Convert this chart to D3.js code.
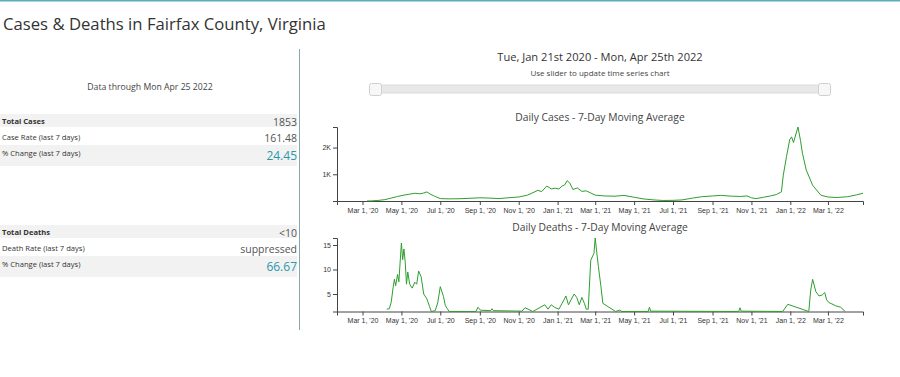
<!DOCTYPE html>
<html>
<head>
<meta charset="utf-8">
<script src="https://cdn.jsdelivr.net/npm/d3@7"></script>
<style>
  body { margin: 0; background: #fff; }
  svg { font-family: "Open Sans", sans-serif; display: block; }
  .axis text { font-family: "Liberation Sans", Arial, sans-serif; font-size: 7px; fill: #333; }
  .axis path, .axis line { stroke: #444; }
</style>
</head>
<body>
<div id="chart-container"></div>
<script>
// Data

const caseDates = [
  "2020-03-08","2020-03-15","2020-03-25","2020-04-05","2020-04-15","2020-04-25","2020-05-05","2020-05-15",
  "2020-05-22","2020-05-30","2020-06-05","2020-06-10","2020-06-15","2020-06-22","2020-07-01","2020-07-15",
  "2020-08-01","2020-08-15","2020-09-01","2020-09-15","2020-10-01","2020-10-15","2020-11-01","2020-11-15",
  "2020-11-25","2020-12-01","2020-12-07","2020-12-15","2020-12-22","2020-12-28","2021-01-03","2021-01-08",
  "2021-01-12","2021-01-16","2021-01-20","2021-01-25","2021-02-01","2021-02-08","2021-02-15","2021-02-22",
  "2021-03-01","2021-03-15","2021-04-01","2021-04-15","2021-05-01","2021-05-15","2021-06-01","2021-06-15",
  "2021-07-01","2021-07-15","2021-08-01","2021-08-15","2021-09-01","2021-09-15","2021-10-01","2021-10-15",
  "2021-10-25","2021-11-01","2021-11-08","2021-11-20","2021-12-01","2021-12-10","2021-12-18","2021-12-21",
  "2021-12-26","2021-12-31","2022-01-03","2022-01-06","2022-01-13","2022-01-17","2022-01-20","2022-01-26",
  "2022-02-05","2022-02-18","2022-03-01","2022-03-15","2022-04-01","2022-04-15","2022-04-25"
];
const caseAvg = [
  0, 5, 20, 50, 110, 170, 220, 260,
  290, 270, 300, 340, 260, 180, 90, 80,
  85, 100, 120, 110, 90, 120, 150, 220,
  330, 400, 350, 560, 450, 480, 450, 560,
  600, 760, 680, 430, 490, 360, 380, 300,
  220, 190, 180, 210, 140, 80, 40, 20,
  25, 40, 110, 160, 190, 210, 180, 170,
  190, 120, 90, 140, 190, 240, 340, 970,
  1660, 2290, 2400, 2190, 2770, 2260, 1790, 1160,
  590, 215, 150, 130, 160, 230, 290
];

const deathDates = [
  "2020-04-08","2020-04-12","2020-04-15","2020-04-18","2020-04-20","2020-04-22","2020-04-25","2020-04-27",
  "2020-05-01","2020-05-03","2020-05-05","2020-05-07","2020-05-09","2020-05-11","2020-05-14","2020-05-18",
  "2020-05-22","2020-05-25","2020-05-28","2020-06-01","2020-06-05","2020-06-10","2020-06-14","2020-06-17",
  "2020-06-23","2020-06-27","2020-07-01","2020-07-06","2020-07-09","2020-07-12","2020-07-15","2020-08-26",
  "2020-08-29","2020-09-02","2020-09-18","2020-09-20","2020-09-22","2020-11-06","2020-11-11","2020-11-23",
  "2020-12-12","2020-12-17","2020-12-22","2020-12-27","2021-01-03","2021-01-08","2021-01-11","2021-01-14",
  "2021-01-18","2021-01-22","2021-01-27","2021-01-31","2021-02-04","2021-02-08","2021-02-12","2021-02-15",
  "2021-02-18","2021-02-22","2021-02-27","2021-03-01","2021-03-03","2021-03-06","2021-03-10","2021-03-13",
  "2021-04-02","2021-04-08","2021-04-12","2021-05-23","2021-05-25","2021-05-27","2021-10-12","2021-10-14",
  "2021-10-16","2021-12-20","2021-12-28","2022-01-30","2022-02-02","2022-02-05","2022-02-10","2022-02-15",
  "2022-02-20","2022-02-24","2022-02-27","2022-03-03","2022-03-07","2022-03-13","2022-03-21","2022-03-28"
];
const deathAvg = [
  1.9, 2.0, 3.3, 6.3, 8.0, 6.7, 9.0, 7.5,
  15.4, 12.0, 14.2, 11.5, 7.0, 9.5, 7.0, 6.2,
  7.4, 7.0, 9.7, 8.5, 5.0, 4.0, 2.5, 1.43,
  1.6, 3.2, 6.5, 4.5, 2.6, 2.0, 1.43, 1.43,
  2.3, 1.7, 1.6, 2.0, 1.6, 1.5, 2.2, 1.43,
  2.8, 1.9, 2.8, 2.3, 1.9, 3.1, 3.8, 4.6,
  2.8, 3.8, 5.0, 4.3, 2.8, 4.3, 3.1, 1.9,
  1.9, 11.9, 13.3, 16.43, 14.0, 10.6, 6.5, 3.1,
  1.43, 1.7, 1.43, 1.43, 2.3, 1.5, 1.43, 2.2,
  1.5, 1.43, 2.9, 1.43, 5.8, 8.0, 5.5, 4.6,
  4.8, 5.3, 3.8, 3.2, 3.0, 2.6, 2.3, 1.43
];

const caseYTicks = [1000, 2000];
const deathYTicks = [5, 10, 15];
const timeRange = ["2020-01-21", "2022-04-25"];

const caseRows = [
  { label: "Total Cases", value: "1853" },
  { label: "Case Rate (last 7 days)", value: "161.48" },
  { label: "% Change (last 7 days)", value: "24.45" }
];
const deathRows = [
  { label: "Total Deaths", value: "<10" },
  { label: "Death Rate (last 7 days)", value: "suppressed" },
  { label: "% Change (last 7 days)", value: "66.67" }
];

const parseDate = d3.timeParse("%Y-%m-%d");
const cases = caseDates.map((d, i) => ({ date: parseDate(d), value: caseAvg[i] }));
const deaths = deathDates.map((d, i) => ({ date: parseDate(d), value: deathAvg[i] }));

const svg = d3.select("#chart-container")
  .append("svg")
    .attr("width", 900)
    .attr("height", 377);

// Top border and page title

svg.append("rect")
  .attr("x", 0).attr("y", 0)
  .attr("width", 900).attr("height", 1.5)
  .attr("fill", "#5aaebb");

svg.append("text")
  .attr("x", 3).attr("y", 30)
  .style("font-size", "16.7px")
  .style("fill", "#333")
  .text("Cases & Deaths in Fairfax County, Virginia");

svg.append("line")
  .attr("x1", 299.5).attr("x2", 299.5)
  .attr("y1", 49).attr("y2", 330)
  .attr("stroke", "#8aa6ab")
  .attr("stroke-width", 1);

// Left panel: summary tables

svg.append("text")
  .attr("x", 150).attr("y", 90)
  .attr("text-anchor", "middle")
  .style("font-size", "8.7px")
  .style("fill", "#444")
  .text("Data through Mon Apr 25 2022");

function drawTable(rows, top) {
  const bands = [[0, 13], [31, 52]];
  const labelY = [10, 25.5, 41.5];
  const valueY = [11.5, 27.5, 46];
  const sizes = [10.5, 10.5, 12];

  bands.forEach(b => {
    svg.append("rect")
      .attr("x", 0).attr("y", top + b[0])
      .attr("width", 297).attr("height", b[1] - b[0])
      .attr("fill", "#f2f2f2");
  });
  rows.forEach((r, i) => {
    svg.append("text")
      .attr("x", 2).attr("y", top + labelY[i])
      .style("font-size", "7.6px")
      .style("font-weight", i === 0 ? "bold" : "normal")
      .style("fill", "#333")
      .text(r.label);
    svg.append("text")
      .attr("x", 297).attr("y", top + valueY[i])
      .attr("text-anchor", "end")
      .style("font-size", sizes[i] + "px")
      .style("fill", i === 2 ? "#2b97aa" : "#555")
      .text(r.value);
  });
}

drawTable(caseRows, 114);
drawTable(deathRows, 225);

// Right panel header and slider

svg.append("text")
  .attr("x", 600).attr("y", 61)
  .attr("text-anchor", "middle")
  .style("font-size", "11.1px")
  .style("fill", "#333")
  .text("Tue, Jan 21st 2020 - Mon, Apr 25th 2022");

svg.append("text")
  .attr("x", 600).attr("y", 76)
  .attr("text-anchor", "middle")
  .style("font-size", "8px")
  .style("fill", "#444")
  .text("Use slider to update time series chart");

svg.append("rect")
  .attr("x", 372).attr("y", 85)
  .attr("width", 456).attr("height", 8)
  .attr("fill", "#e8e8e8")
  .attr("stroke", "#dcdcdc");

[369, 818].forEach(hx => {
  svg.append("rect")
    .attr("x", hx + 0.5).attr("y", 83.5)
    .attr("width", 12).attr("height", 12)
    .attr("rx", 2)
    .attr("fill", "#f7f7f7")
    .attr("stroke", "#d0d0d0");
});

// Shared x scale

const x = d3.scaleTime()
  .domain(timeRange.map(parseDate))
  .range([337, 863]);

const xAxis = d3.axisBottom(x)
  .ticks(d3.timeMonth.every(2))
  .tickFormat(d3.timeFormat("%b %-d, '%y"))
  .tickSize(4)
  .tickPadding(3);

function drawChart(data, yDomain, yRange, yTicks, yFormat, title, titleY) {
  const y = d3.scaleLinear()
    .domain(yDomain)
    .range(yRange);

  svg.append("text")
    .attr("x", 600).attr("y", titleY)
    .attr("text-anchor", "middle")
    .style("font-size", "10.3px")
    .style("fill", "#444")
    .text(title);

  svg.append("g")
    .attr("class", "axis")
    .attr("transform", `translate(0,${yRange[0]})`)
    .call(xAxis);

  svg.append("g")
    .attr("class", "axis")
    .attr("transform", "translate(337,0)")
    .call(d3.axisLeft(y)
      .tickValues(yTicks)
      .tickFormat(yFormat)
      .tickSize(4)
      .tickSizeOuter(4)
      .tickPadding(2));

  const line = d3.line()
    .x(d => x(d.date))
    .y(d => y(d.value));

  svg.append("path")
    .datum(data)
    .attr("fill", "none")
    .attr("stroke", "#2e9e2e")
    .attr("stroke-width", 1)
    .attr("d", line);
}

drawChart(cases, [0, d3.max(cases, d => d.value)], [201, 127], caseYTicks,
  d => (d / 1000) + "K", "Daily Cases - 7-Day Moving Average", 120.5);

drawChart(deaths, d3.extent(deaths, d => d.value), [311.5, 238], deathYTicks,
  d => d, "Daily Deaths - 7-Day Moving Average", 231);
</script>
</body>
</html>
